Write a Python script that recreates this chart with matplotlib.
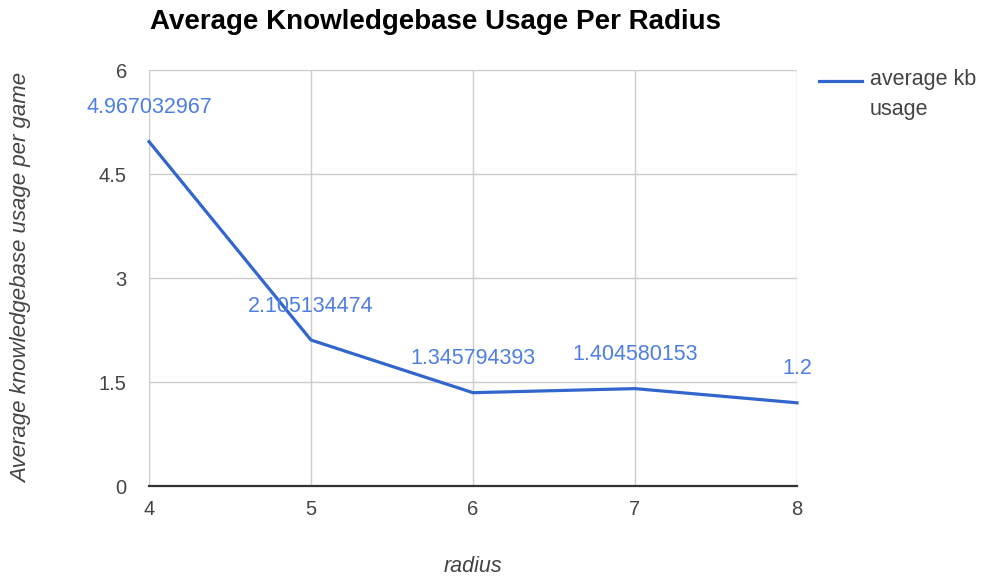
"""Average knowledgebase usage per radius, Google-Charts style line chart."""
import matplotlib
matplotlib.use("Agg")
import matplotlib.pyplot as plt
from matplotlib.lines import Line2D

plt.rcParams["font.family"] = ["Liberation Sans", "DejaVu Sans"]

# --- data ------------------------------------------------------------
radius = [4, 5, 6, 7, 8]
kb_usage = [4.967032967, 2.105134474, 1.345794393, 1.404580153, 1.2]
labels = ["4.967032967", "2.105134474", "1.345794393", "1.404580153", "1.2"]
yticks = [0, 1.5, 3, 4.5, 6]
ytick_labels = ["0", "1.5", "3", "4.5", "6"]
series_name = "average kb\nusage"

LINE = "#3366CC"
LABEL = "#4D7FE0"
GRID = "#CCCCCC"
TEXT = "#444444"

W, H = 984, 580

# --- figure ----------------------------------------------------------
fig = plt.figure(figsize=(W / 100, H / 100), dpi=100)
ax = fig.add_axes([149 / W, 1 - 486 / H, 648 / W, 416 / H])

ax.plot(radius, kb_usage, color=LINE, lw=2.3, zorder=3, clip_on=False)

# data labels centred above each point
for x, y, s in zip(radius, kb_usage, labels):
    ax.annotate(s, (x, y), xytext=(0, 34), textcoords="offset pixels",
                ha="center", va="center", color=LABEL, fontsize=15.5,
                zorder=4, annotation_clip=False)

ax.set_xlim(4, 8)
ax.set_ylim(0, 6)
ax.set_xticks(radius)
ax.set_yticks(yticks)
ax.set_yticklabels(ytick_labels)
ax.tick_params(length=0, labelsize=14.5, labelcolor=TEXT)
ax.tick_params(axis="x", pad=10)
ax.tick_params(axis="y", pad=16)
ax.grid(True, color=GRID, lw=1)
ax.set_axisbelow(True)
for side in ("top", "left", "right"):
    ax.spines[side].set_visible(False)
ax.spines["bottom"].set_color("#333333")
ax.spines["bottom"].set_linewidth(1.6)
ax.spines["bottom"].set_zorder(2.5)

ax.set_xlabel("radius", fontsize=15.5, style="italic", color=TEXT,
              va="center")
ax.xaxis.set_label_coords(0.5, (486 - 567) / 416)
ax.set_ylabel("Average knowledgebase usage per game", fontsize=16,
              style="italic", color=TEXT, va="center")
ax.yaxis.set_label_coords((22 - 149) / 648, 0.5)

fig.text(150 / W, 1 - 22 / H, "Average Knowledgebase Usage Per Radius",
         fontsize=20, fontweight="bold", color="#000000", va="center")

# legend, drawn by hand to sit where the original puts it
fig.add_artist(Line2D([819 / W, 862 / W], [1 - 81 / H] * 2, color=LINE,
                      lw=2.3, transform=fig.transFigure))
fig.text(870 / W, 1 - 69 / H, series_name, fontsize=15.5, color=TEXT,
         va="top", linespacing=1.55)

fig.savefig("out.png", dpi=100)
